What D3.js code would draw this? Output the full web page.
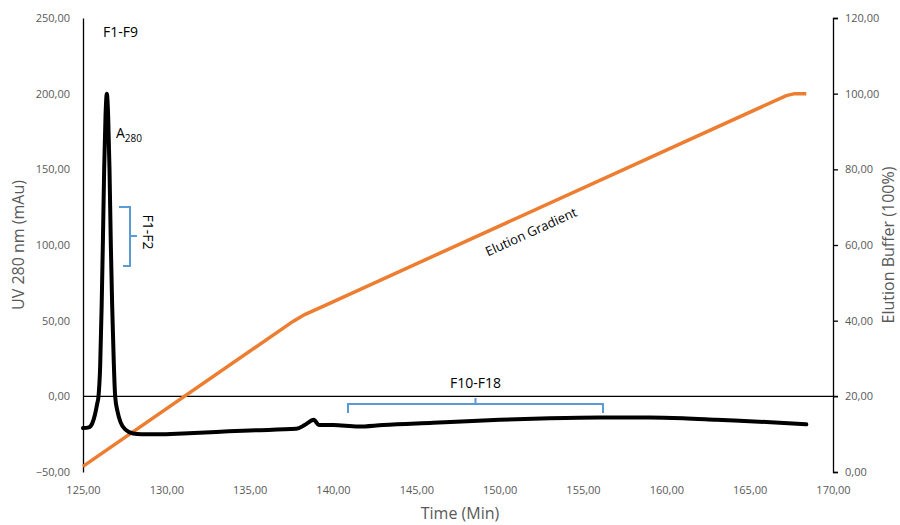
<!DOCTYPE html>
<html lang="en">
<head>
    <meta charset="UTF-8">
    <title>UV 280 nm and elution gradient</title>
    <style>
        body { margin: 0; background: #fff; }
        svg { display: block; font-family: "Open Sans", "Noto Sans", sans-serif; }
    </style>
</head>
<body>
    <svg id="chart" width="900" height="525"></svg>

    <script src="https://d3js.org/d3.v7.min.js"></script>
    <script>
        // A280 trace (time in min, UV in mAu)
        const uvTime = [125.0, 125.35, 125.55, 125.72, 125.85, 125.93, 126.03, 126.12, 126.19, 126.27, 126.35, 126.43,
                        126.51, 126.59, 126.67, 126.75, 126.84, 126.93, 127.07, 127.25, 127.55, 128.0, 128.5, 129.5,
                        131.0, 133.0, 135.0, 137.8, 138.3, 138.85, 139.15, 140.0, 141.5, 143.0, 146.0, 150.0,
                        153.0, 156.0, 159.0, 161.0, 163.0, 166.0, 168.4];
        const uvValue = [-21, -20.5, -18, -12, -5, 0, 20, 60, 100, 150, 185, 200,
                         185, 150, 100, 60, 25, 0, -10, -17, -22, -24.5, -25, -25,
                         -24.5, -23.5, -22.5, -21.5, -19, -15.5, -19, -19, -20, -19, -17.5, -15.5,
                         -14.5, -14, -14, -14.5, -15.5, -17, -18.5];

        // elution buffer gradient (%)
        const gradTime = [125.0, 137.6, 138.3, 139.5, 167.2, 167.7, 168.4];
        const gradValue = [1.5, 39.8, 41.6, 44.0, 99.5, 100, 100];

        const xTicks = [125, 130, 135, 140, 145, 150, 155, 160, 165, 170];
        const leftTicks = [-50, 0, 50, 100, 150, 200, 250];
        const rightTicks = [0, 20, 40, 60, 80, 100, 120];

        const margin = { top: 18, right: 67, bottom: 53, left: 83 };
        const width = 900, height = 525;
        const svg = d3.select("#chart");

        const x = d3.scaleLinear().domain([125, 170]).range([margin.left, width - margin.right]);
        const yL = d3.scaleLinear().domain([-50, 250]).range([height - margin.bottom, margin.top]);
        const yR = d3.scaleLinear().domain([0, 120]).range([height - margin.bottom, margin.top]);

        const fmt = d3.formatLocale({ decimal: ",", thousands: ".", grouping: [3], currency: ["", ""] }).format(".2f");
        const grey = "#595959";

        // left axis: line only, labels to the left
        const left = svg.append("g").attr("transform", `translate(${margin.left},0)`)
            .call(d3.axisLeft(yL).tickValues(leftTicks).tickFormat(fmt).tickSize(0).tickPadding(13));
        left.select(".domain").attr("stroke", "#000").attr("stroke-width", 1.3);

        // right axis with outer ticks
        const right = svg.append("g").attr("transform", `translate(${width - margin.right},0)`)
            .call(d3.axisRight(yR).tickValues(rightTicks).tickFormat(fmt).tickSizeInner(5).tickSizeOuter(5).tickPadding(7));
        right.selectAll(".domain, .tick line").attr("stroke", "#000").attr("stroke-width", 1.3);

        // x axis labels sit at the bottom, the axis line crosses at 0
        const bottom = svg.append("g").attr("transform", `translate(0,${height - margin.bottom})`)
            .call(d3.axisBottom(x).tickValues(xTicks).tickFormat(fmt).tickSize(0).tickPadding(14));
        bottom.select(".domain").remove();

        svg.selectAll(".tick text").attr("fill", grey).attr("font-size", 11)
            .attr("font-family", "\"Open Sans\", \"Noto Sans\", sans-serif");

        svg.append("line")
            .attr("x1", x(125)).attr("x2", x(170) + 5)
            .attr("y1", yL(0)).attr("y2", yL(0))
            .attr("stroke", "#000").attr("stroke-width", 1.3);

        // gradient line
        const gradPts = gradTime.map((t, i) => [t, gradValue[i]]);
        svg.append("path")
            .datum(gradPts)
            .attr("fill", "none")
            .attr("stroke", "#ED7D31")
            .attr("stroke-width", 3.5)
            .attr("d", d3.line().x(d => x(d[0])).y(d => yR(d[1])));

        // A280 trace
        const uvPts = uvTime.map((t, i) => [t, uvValue[i]]);
        svg.append("path")
            .datum(uvPts)
            .attr("fill", "none")
            .attr("stroke", "#000")
            .attr("stroke-width", 4)
            .attr("stroke-linejoin", "round")
            .attr("stroke-linecap", "round")
            .attr("d", d3.line().x(d => x(d[0])).y(d => yL(d[1])).curve(d3.curveMonotoneX));

        // axis titles
        svg.append("text")
            .attr("transform", `translate(24,${(margin.top + height - margin.bottom) / 2}) rotate(-90)`)
            .attr("text-anchor", "middle").attr("fill", grey).attr("font-size", 16)
            .text("UV 280 nm (mAu)");
        svg.append("text")
            .attr("transform", `translate(894,${(margin.top + height - margin.bottom) / 2}) rotate(-90)`)
            .attr("text-anchor", "middle").attr("fill", grey).attr("font-size", 16)
            .text("Elution Buffer (100%)");
        svg.append("text")
            .attr("x", 460).attr("y", 519)
            .attr("text-anchor", "middle").attr("fill", grey).attr("font-size", 16)
            .text("Time (Min)");

        // annotations
        svg.append("text").attr("x", 103).attr("y", 37).attr("font-size", 14).attr("fill", "#000").text("F1-F9");

        const a280 = svg.append("text").attr("x", 116).attr("y", 138).attr("font-size", 14).attr("fill", "#000");
        a280.append("tspan").text("A");
        a280.append("tspan").attr("font-size", 10).attr("dy", 4).text("280");

        const blue = "#5B9BD5";
        svg.append("path")
            .attr("d", "M119,207 H130 V266 H123 M130,236 H137")
            .attr("fill", "none").attr("stroke", blue).attr("stroke-width", 2);
        svg.append("text")
            .attr("transform", "translate(143,232) rotate(90)")
            .attr("text-anchor", "middle").attr("font-size", 14).attr("fill", "#000")
            .text("F1-F2");

        const bx1 = x(140.9), bx2 = x(156.2), bmid = (bx1 + bx2) / 2;
        svg.append("path")
            .attr("d", `M${bx1},413 V404 H${bx2} V413 M${bmid},404 V398`)
            .attr("fill", "none").attr("stroke", blue).attr("stroke-width", 2);
        svg.append("text")
            .attr("x", bmid).attr("y", 388)
            .attr("text-anchor", "middle").attr("font-size", 14).attr("fill", "#000")
            .text("F10-F18");

        svg.append("text")
            .attr("transform", "translate(533,236) rotate(-24.4)")
            .attr("text-anchor", "middle").attr("font-size", 13).attr("fill", "#000")
            .text("Elution Gradient");
    </script>
</body>
</html>
